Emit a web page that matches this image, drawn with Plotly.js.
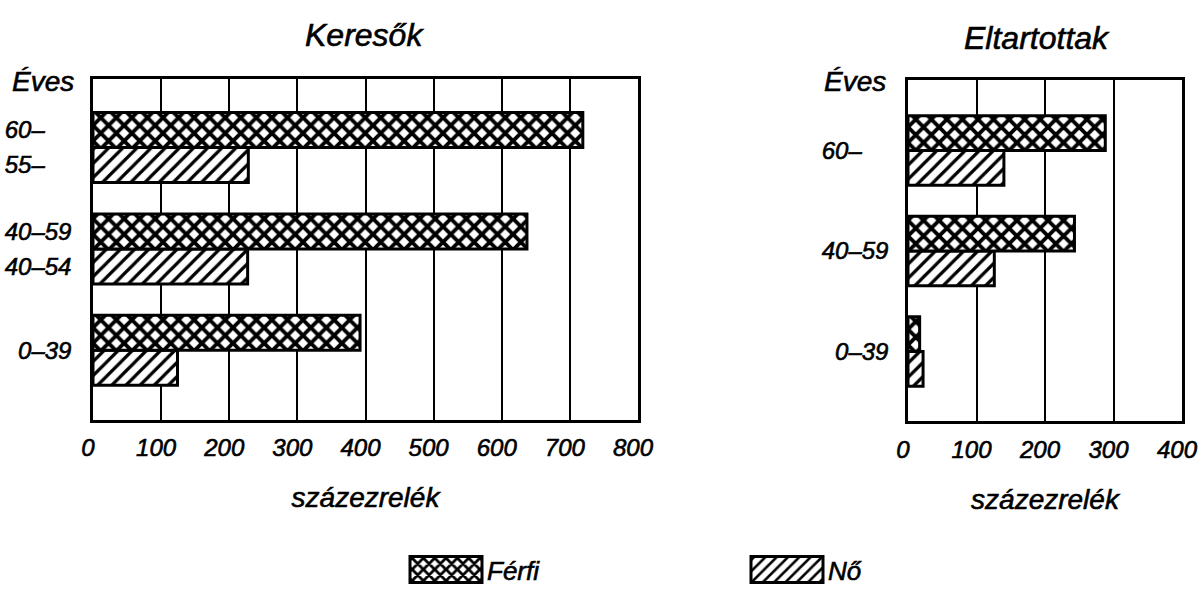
<!DOCTYPE html>
<html><head><meta charset="utf-8">
<script src="https://cdn.plot.ly/plotly-3.0.1.min.js"></script>
<style>
html,body{margin:0;padding:0;background:#fff}
#chart{width:1199px;height:593px}
#chart text{stroke:#000;stroke-width:0.6px;paint-order:stroke}
</style>
</head><body><div id="chart"></div>
<script>
// ---- data ----
const ageGroups = ["0–39", "40–59", "60–"];            // Eltartottak (both sexes), Keresők men
const keresokWomenLabels = ["0–39", "40–54", "55–"];   // Keresők women
const keresokFerfi = [392, 637, 719];
const keresokNo = [124, 227, 228];
const eltartottakFerfi = [17, 243, 288];
const eltartottakNo = [22, 126, 140];
const xTicksKeresok = [0, 100, 200, 300, 400, 500, 600, 700, 800];
const xTicksEltartottak = [0, 100, 200, 300, 400];
const seriesNames = ["Férfi", "Nő"];
const panelTitles = ["Keresők", "Eltartottak"];
const axisTitleText = "százezrelék";
const yHeader = "Éves";

// ---- helpers ----
const FONT = "Liberation Sans, Arial, sans-serif";
const BARGAP = 0.31;
const half = (1 - BARGAP) / 4;          // centre offset of each bar inside its group
const pos = ageGroups.map((_, i) => i);
const FS = "\u2007";
const pad = s => s.endsWith("–") ? s + FS.repeat(Math.max(0, 5 - s.length)) : s;

// left panel ticks: one per bar when the labels differ, else one per group
const leftTickVals = [], leftTickText = [];
ageGroups.forEach((m, i) => {
  const w = keresokWomenLabels[i];
  if (m === w) { leftTickVals.push(i); leftTickText.push(pad(m)); }
  else {
    leftTickVals.push(i + half); leftTickText.push(pad(m));
    leftTickVals.push(i - half); leftTickText.push(pad(w));
  }
});

const ferfiMarker = {color: "#fff", line: {color: "#000", width: 3},
  pattern: {shape: "x", fgcolor: "#000", bgcolor: "#fff", size: 11, solidity: 0.58, fillmode: "replace"}};
const noMarker = {color: "#fff", line: {color: "#000", width: 3},
  pattern: {shape: "/", fgcolor: "#000", bgcolor: "#fff", size: 10, solidity: 0.32, fillmode: "replace"}};

const traces = [
  {type: "bar", orientation: "h", name: seriesNames[1], y: pos, x: keresokNo, marker: noMarker,
   xaxis: "x", yaxis: "y", legendrank: 2, hoverinfo: "x"},
  {type: "bar", orientation: "h", name: seriesNames[0], y: pos, x: keresokFerfi, marker: ferfiMarker,
   xaxis: "x", yaxis: "y", legendrank: 1, hoverinfo: "x"},
  {type: "bar", orientation: "h", name: seriesNames[1], y: pos, x: eltartottakNo, marker: noMarker,
   xaxis: "x2", yaxis: "y2", showlegend: false, hoverinfo: "x"},
  {type: "bar", orientation: "h", name: seriesNames[0], y: pos, x: eltartottakFerfi, marker: ferfiMarker,
   xaxis: "x2", yaxis: "y2", showlegend: false, hoverinfo: "x"}
];

const W = 1199, H = 593;
const xAxisBase = {
  showgrid: true, gridcolor: "#000", gridwidth: 2, zeroline: false,
  showline: true, linecolor: "#000", linewidth: 2.5, mirror: true,
  ticks: "", tickfont: {size: 24, color: "#000"}, ticklabelstandoff: 5, ticklabelshift: -5,
  title: {text: axisTitleText, font: {size: 28, color: "#000"}, standoff: 28},
  fixedrange: true, automargin: false
};
const yAxisBase = {
  showgrid: false, zeroline: false, showline: true, linecolor: "#000", linewidth: 2.5, mirror: true,
  ticks: "", tickfont: {size: 24, color: "#000"}, ticklabelstandoff: 14, fixedrange: true, automargin: false
};

const layout = {
  width: W, height: H, autosize: false,
  margin: {l: 0, r: 0, t: 0, b: 0},
  paper_bgcolor: "#fff", plot_bgcolor: "#fff",
  font: {family: FONT, style: "italic", color: "#000"},
  barmode: "group", bargap: BARGAP, bargroupgap: 0,
  xaxis: Object.assign({}, xAxisBase, {domain: [93 / W, 638 / W], range: [0, 800], tickvals: xTicksKeresok, anchor: "y"}),
  yaxis: Object.assign({}, yAxisBase, {domain: [1 - 421 / H, 1 - 79 / H], range: [-0.683, 2.678],
    tickvals: leftTickVals, ticktext: leftTickText, anchor: "x"}),
  xaxis2: Object.assign({}, xAxisBase, {domain: [908 / W, 1182 / W], range: [0, 400], tickvals: xTicksEltartottak, anchor: "y2"}),
  yaxis2: Object.assign({}, yAxisBase, {domain: [1 - 422.7 / H, 1 - 80.7 / H], range: [-0.694, 2.697],
    tickvals: pos, ticktext: ageGroups.map(pad), anchor: "x2", ticklabelstandoff: 12}),
  annotations: [
    {text: panelTitles[0], xref: "paper", yref: "paper", x: 364 / W, y: 1 - 35 / H, showarrow: false,
     font: {size: 32}, xanchor: "center", yanchor: "middle"},
    {text: panelTitles[1], xref: "paper", yref: "paper", x: 1037 / W, y: 1 - 38 / H, showarrow: false,
     font: {size: 32}, xanchor: "center", yanchor: "middle"},
    {text: yHeader, xref: "paper", yref: "paper", x: 10 / W, y: 1 - 82 / H, showarrow: false,
     font: {size: 28}, xanchor: "left", yanchor: "middle"},
    {text: yHeader, xref: "paper", yref: "paper", x: 822 / W, y: 1 - 82 / H, showarrow: false,
     font: {size: 28}, xanchor: "left", yanchor: "middle"}
  ],
  showlegend: true,
  legend: {orientation: "h", x: 405 / W, xanchor: "left",
    y: 1 - 548 / H, yanchor: "top",
    entrywidth: 254, entrywidthmode: "pixels", itemwidth: 72, font: {size: 26, color: "#000"},
    bgcolor: "rgba(0,0,0,0)", itemclick: false, itemdoubleclick: false}
};

const SWATCH = "M36,13H-36V-13H36Z";
function widenSwatches() {
  document.querySelectorAll("#chart .legend .legendpoints path").forEach(p => {
    if (p.getAttribute("d") !== SWATCH) p.setAttribute("d", SWATCH);
    p.style.strokeWidth = "3px";
  });
}
const gd = document.getElementById("chart");
Plotly.newPlot(gd, traces, layout, {displayModeBar: false, responsive: false}).then(() => {
  widenSwatches();
  gd.on("plotly_afterplot", widenSwatches);
});
</script>
</body></html>
